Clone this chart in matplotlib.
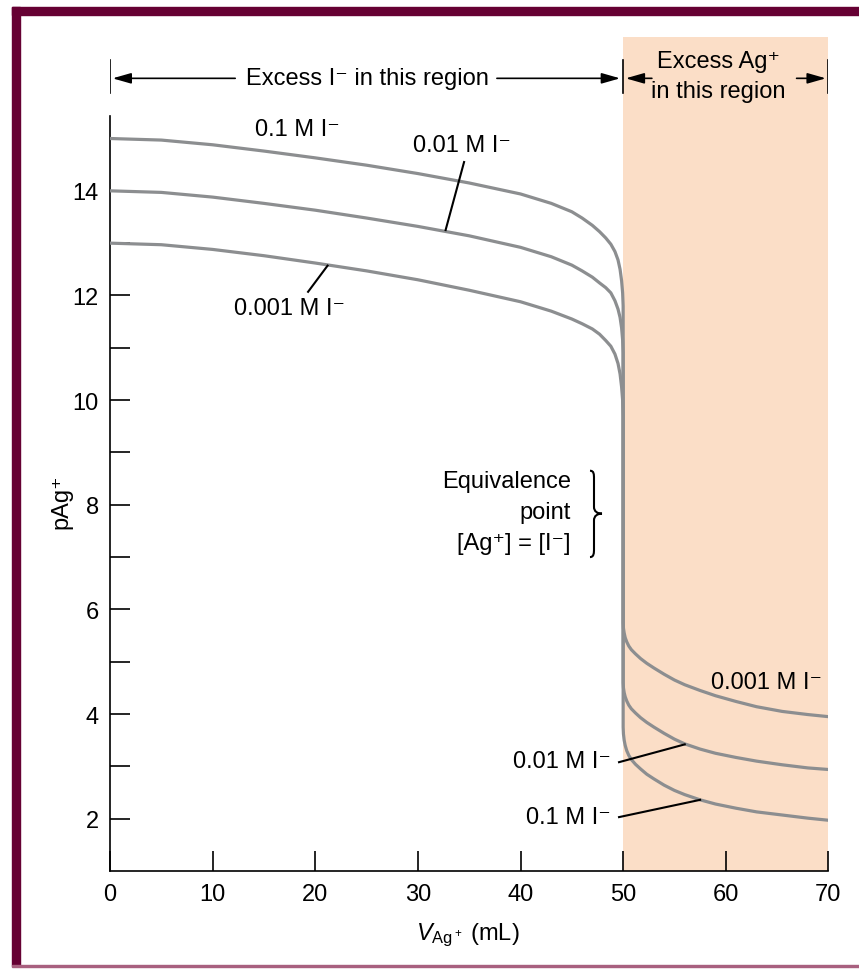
import matplotlib
matplotlib.use('Agg')
import matplotlib.pyplot as plt
from matplotlib.patches import Rectangle, PathPatch
from matplotlib.path import Path

plt.rcParams['font.family'] = ['Liberation Sans', 'DejaVu Sans']
plt.rcParams['mathtext.fontset'] = 'custom'
plt.rcParams['mathtext.rm'] = 'Liberation Sans'
plt.rcParams['mathtext.it'] = 'Liberation Sans:italic'

# pAg+, V in mL
# left branch (excess I-) for each curve, then the drop at 50 mL and the excess Ag+ branch
v_left = [0, 5, 10, 15, 20, 25, 30, 35, 40, 43, 45, 46, 47, 47.7, 48.3, 48.8, 49.2, 49.5, 49.7, 49.85, 49.95, 50]
p_01_left = [15.0, 14.97, 14.88, 14.76, 14.63, 14.49, 14.33, 14.15, 13.94, 13.76, 13.6, 13.48, 13.34,
             13.22, 13.1, 12.98, 12.84, 12.68, 12.5, 12.28, 12.05, 11.8]
p_001_left = [14.0, 13.97, 13.88, 13.76, 13.63, 13.48, 13.32, 13.14, 12.92, 12.74, 12.58, 12.47, 12.35,
              12.24, 12.15, 12.05, 11.9, 11.74, 11.58, 11.38, 11.15, 10.9]
p_0001_left = [13.0, 12.97, 12.88, 12.76, 12.62, 12.47, 12.3, 12.1, 11.88, 11.7, 11.55, 11.46, 11.36,
               11.26, 11.14, 11.03, 10.88, 10.7, 10.5, 10.25, 10.0, 9.7]

v_right = [50, 50.03, 50.1, 50.2, 50.35, 50.55, 50.8, 51.2, 51.7, 52.3, 53, 54, 55, 56, 57.5, 59, 61, 63, 65.5, 68, 70]
p_01_right = [3.75, 3.62, 3.5, 3.4, 3.3, 3.21, 3.13, 3.04, 2.95, 2.85, 2.76, 2.64, 2.54, 2.46, 2.36, 2.28,
              2.2, 2.13, 2.07, 2.01, 1.97]
p_001_right = [4.6, 4.5, 4.41, 4.33, 4.25, 4.17, 4.1, 4.02, 3.93, 3.84, 3.75, 3.63, 3.52, 3.43, 3.33, 3.25,
               3.17, 3.1, 3.03, 2.97, 2.94]
p_0001_right = [5.75, 5.64, 5.55, 5.46, 5.38, 5.3, 5.23, 5.15, 5.06, 4.97, 4.88, 4.76, 4.65, 4.56, 4.45, 4.35,
                4.24, 4.14, 4.05, 3.99, 3.95]

x_ticks = [0, 10, 20, 30, 40, 50, 60, 70]
y_ticks = [2, 4, 6, 8, 10, 12, 14]
y_minor = [3, 5, 7, 9, 11, 13, 15]

curve_col = '#8c8e90'
shade_col = '#fbdec7'
frame_col = '#660033'
fs = 17

fig = plt.figure(figsize=(8.59, 9.70), dpi=100)
ax = fig.add_axes([110 / 859, 98 / 970, 718.4 / 859, 834 / 970])
ax.set_xlim(0, 70)
ax.set_ylim(1.0, 16.94)

# maroon frame
fig.patches.append(Rectangle((12 / 859, 1 - 16 / 970), 847 / 859, 8 / 970,
                             transform=fig.transFigure, color=frame_col))
fig.patches.append(Rectangle((12 / 859, 3 / 970), 8 / 859, 959 / 970,
                             transform=fig.transFigure, color=frame_col))
fig.patches.append(Rectangle((12 / 859, 2 / 970), 847 / 859, 2 / 970,
                             transform=fig.transFigure, color='#a8607f'))

ax.axvspan(50, 70.05, color=shade_col, lw=0, zorder=0)

for pl, pr in [(p_01_left, p_01_right), (p_001_left, p_001_right), (p_0001_left, p_0001_right)]:
    ax.plot(v_left + v_right, pl + pr, color=curve_col, lw=2.3,
            solid_joinstyle='round', solid_capstyle='round', zorder=3)

for s in ['top', 'right']:
    ax.spines[s].set_visible(False)
ax.spines['left'].set_bounds(1.0, 15.43)
ax.spines['bottom'].set_bounds(0, 70)
for s in ['left', 'bottom']:
    ax.spines[s].set_linewidth(1.2)

ax.set_xticks(x_ticks)
ax.set_yticks(y_ticks)
ax.set_yticks(y_minor, minor=True)
ax.tick_params(which='both', direction='in', length=14.5, width=1.2, labelsize=fs, pad=8)
ax.tick_params(axis='x', pad=9)

ax.text(-0.067, 0.444, 'pAg⁺', rotation=90, fontsize=fs, ha='center', va='center',
        transform=ax.transAxes)
ax.text(0.498, -0.0755, r'$V_{\mathrm{Ag^+}}$ (mL)', fontsize=fs, ha='center', va='center',
        transform=ax.transAxes)

# region arrows
arr = dict(arrowstyle='-|>,head_length=0.7,head_width=0.2', color='black', lw=1.2,
           shrinkA=0, shrinkB=0, mutation_scale=16)
ya = 16.15
for x0, x1 in [(12.2, 0.25), (37.7, 49.7), (52.8, 50.25), (66.9, 69.75)]:
    ax.annotate('', xy=(x1, ya), xytext=(x0, ya), arrowprops=arr)
for xb in [0, 50, 70]:
    ax.plot([xb, xb], [15.87, 16.5], color='black', lw=1.2)
ax.text(25.1, ya, 'Excess I⁻ in this region', fontsize=fs, ha='center', va='center')
ax.text(59.3, 16.48, 'Excess Ag⁺', fontsize=fs, ha='center', va='center')
ax.text(59.3, 15.91, 'in this region', fontsize=fs, ha='center', va='center')

# curve labels
ax.text(18.3, 15.19, '0.1 M I⁻', fontsize=fs, ha='center', va='center')
ax.text(34.3, 14.88, '0.01 M I⁻', fontsize=fs, ha='center', va='center')
ax.text(17.5, 11.77, '0.001 M I⁻', fontsize=fs, ha='center', va='center')
ax.text(69.4, 4.62, '0.001 M I⁻', fontsize=fs, ha='right', va='center')
ax.text(48.8, 3.11, '0.01 M I⁻', fontsize=fs, ha='right', va='center')
ax.text(48.8, 2.04, '0.1 M I⁻', fontsize=fs, ha='right', va='center')
for (xa, ya0), (xb, yb) in [((34.5, 14.55), (32.7, 13.25)), ((19.3, 12.07), (21.2, 12.57)),
                            ((49.6, 3.08), (56.0, 3.42)), ((49.6, 2.03), (57.5, 2.36))]:
    ax.plot([xa, xb], [ya0, yb], color='black', lw=1.5, zorder=4)

# equivalence point note and brace
ax.text(44.9, 7.86, 'Equivalence\npoint\n[Ag⁺] = [I⁻]', fontsize=fs, ha='right', va='center',
        multialignment='right', linespacing=1.55)
verts = [(46.77, 8.65), (47.16, 8.65), (47.16, 8.58), (47.16, 8.50),
         (47.16, 7.96),
         (47.16, 7.87), (47.5, 7.83), (47.94, 7.83),
         (47.5, 7.83), (47.16, 7.79), (47.16, 7.70),
         (47.16, 7.16),
         (47.16, 7.08), (47.16, 7.0), (46.77, 7.0)]
codes = [Path.MOVETO] + [Path.CURVE4] * 3 + [Path.LINETO] + [Path.CURVE4] * 6 + [Path.LINETO] + [Path.CURVE4] * 3
ax.add_patch(PathPatch(Path(verts, codes), fill=False, lw=1.5, color='black'))

fig.savefig('out.png', dpi=100)
